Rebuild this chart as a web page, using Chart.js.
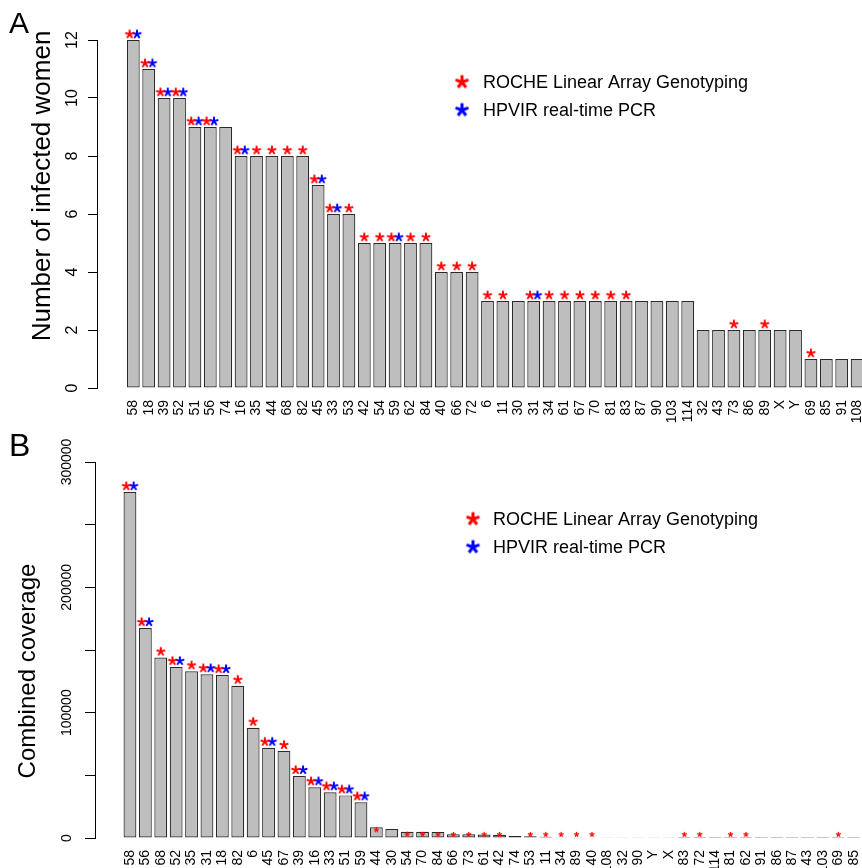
<!DOCTYPE html>
<html><head><meta charset="utf-8">
<script src="https://cdn.jsdelivr.net/npm/chart.js@4.4.1/dist/chart.umd.min.js"></script>
<style>
html,body{margin:0;padding:0;background:#fff;overflow:hidden;width:862px;height:868px;}
#wrap{position:relative;width:862px;height:868px;overflow:hidden;background:#fff;}
canvas{position:absolute;left:0;}
#cA{top:0px}
#cB{top:434px}
</style></head><body>
<div id="wrap"><canvas id="cA" width="910" height="434"></canvas><canvas id="cB" width="910" height="480"></canvas></div>
<script>
// ---------- Panel A data ----------
const catsA = ['58','18','39','52','51','56','74','16','35','44','68','82','45','33','53','42','54','59','62','84','40','66','72','6','11','30','31','34','61','67','70','81','83','87','90','103','114','32','43','73','86','89','X','Y','69','85','91','108'];
const valsA = [12,11,10,10,9,9,9,8,8,8,8,8,7,6,6,5,5,5,5,5,4,4,4,3,3,3,3,3,3,3,3,3,3,3,3,3,3,2,2,2,2,2,2,2,1,1,1,1];
const rocheA = ['58','18','39','52','51','56','16','35','44','68','82','45','33','53','42','54','59','62','84','40','66','72','6','11','31','34','61','67','70','81','83','73','89','69'];
const hpvirA = ['58','18','39','52','51','56','16','45','33','59','31'];
const yTicksA = [0,2,4,6,8,10,12];

// ---------- Panel B data ----------
const catsB = ['58','56','68','52','35','31','18','82','6','45','67','39','16','33','51','59','44','30','54','70','84','66','73','61','42','74','53','11','34','89','40','108','32','90','Y','X','83','72','114','81','62','91','86','87','43','103','69','85'];
const valsB = [276000,167500,144000,136500,133000,130700,130000,121500,88000,72000,69500,49500,40500,36500,34000,28500,8500,7200,5000,4900,4700,3000,2900,2700,2500,1500,1300,1000,600,500,400,250,200,150,120,100,90,80,70,60,50,40,30,25,20,15,10,5];
const rocheB = ['58','56','68','52','35','31','18','82','6','45','67','39','16','33','51','59','44','54','70','84','66','73','61','42','53','11','34','89','40','83','72','81','62','69'];
const hpvirB = ['58','56','52','31','18','45','39','16','33','51','59'];
const yTicksB = [0,100000,200000,300000];

const legendLabels = ['ROCHE Linear Array Genotyping','HPVIR real-time PCR'];
const FONT = '"Liberation Sans", Arial, Helvetica, sans-serif';

function makeStar(color, r, lw){
  const s = Math.ceil(2*r + lw + 2);
  const c = document.createElement('canvas');
  c.width = s; c.height = s;
  const g = c.getContext('2d');
  g.strokeStyle = color; g.lineWidth = lw; g.lineCap = 'butt';
  const cx = s/2, cy = s/2;
  for (let k=0;k<5;k++){
    const a = -Math.PI/2 + k*2*Math.PI/5;
    g.beginPath(); g.moveTo(cx,cy); g.lineTo(cx + r*Math.cos(a), cy + r*Math.sin(a)); g.stroke();
  }
  return c;
}
const RED='#ff0000', BLUE='#0000ff';
const starR = makeStar(RED, 4.6, 2.0), starB = makeStar(BLUE, 4.6, 2.0);
const starRs = makeStar(RED, 2.6, 1.3);
const legR = makeStar(RED, 6.8, 3.0), legB = makeStar(BLUE, 6.8, 3.0);

const panelPlugin = {
  id: 'panel',
  afterDraw(chart){
    const o = chart.options.plugins.panel;
    const ctx = chart.ctx;
    ctx.save();
    ctx.fillStyle = '#000';
    // panel letter
    ctx.font = o.letterSize + 'px ' + FONT;
    ctx.textAlign = 'left'; ctx.textBaseline = 'alphabetic';
    ctx.fillText(o.letter, o.letterX, o.letterY);
    // y tick labels (rotated, R style)
    const ys = chart.scales.y;
    ctx.font = o.tickSize + 'px ' + FONT;
    ctx.textAlign = 'center'; ctx.textBaseline = 'middle';
    o.yLabels.forEach(v => {
      const py = ys.getPixelForValue(v);
      ctx.save(); ctx.translate(o.tickX, py); ctx.rotate(-Math.PI/2);
      ctx.fillText(String(v), 0, 0); ctx.restore();
    });
    // y title
    ctx.font = o.titleSize + 'px ' + FONT;
    ctx.textAlign = 'center'; ctx.textBaseline = 'alphabetic';
    ctx.save(); ctx.translate(o.titleX, o.titleY); ctx.rotate(-Math.PI/2);
    ctx.fillText(o.title, 0, 0); ctx.restore();
    // legend
    ctx.font = o.legSize + 'px ' + FONT;
    ctx.textAlign = 'left'; ctx.textBaseline = 'middle';
    [legR, legB].forEach((img, k) => {
      const y = o.legY + k*o.legGap;
      ctx.drawImage(img, o.legStarX - img.width/2, y - img.height/2);
      ctx.fillText(legendLabels[k], o.legTextX, y + 1);
    });
    ctx.restore();
  }
};

function build(id, cats, vals, roche, hpvir, cfg){
  const red = [], redStyle = [], blue = [];
  cats.forEach((c,i) => {
    const v = vals[i];
    const big = v >= cfg.smallBelow;
    const y = big ? v + cfg.starOff : Math.max(v - cfg.smallDrop, cfg.smallMin);
    if (roche.includes(c)) {
      red.push({x: hpvir.includes(c) ? i - 0.24 : i, y: y});
      redStyle.push(big ? starR : starRs);
    }
    if (hpvir.includes(c)) blue.push({x: i + 0.24, y: y});
  });
  return new Chart(document.getElementById(id), {
    type: 'bar',
    data: {
      datasets: [
        {type:'scatter', data: red, pointStyle: redStyle, pointRadius: 5, clip: false, order: 1, showLine:false},
        {type:'scatter', data: blue, pointStyle: starB, pointRadius: 5, clip: false, order: 1, showLine:false},
        {type:'bar', data: cats.map((c,i)=>({x:i, y:vals[i]})), backgroundColor:'#bebebe', borderColor:'#2a2a2a',
         borderWidth: 1.2, borderSkipped: false, barPercentage: 1/1.2, categoryPercentage: 1, order: 2}
      ]
    },
    options: {
      responsive: false, animation: false, events: [],
      layout: {padding: {top: cfg.padTop, right: cfg.padRight, left: 0, bottom: 0}},
      plugins: {legend:{display:false}, tooltip:{enabled:false}, panel: cfg.panel},
      scales: {
        x: {type:'linear', min: cfg.xMin, max: cfg.xMax, offset:false,
            grid:{display:false}, border:{display:false},
            afterBuildTicks: s => { s.ticks = cats.map((c,i)=>({value:i})); },
            afterFit: s => { s.height = cfg.xHeight; },
            ticks:{autoSkip:false, minRotation:90, maxRotation:90, padding:4, color:'#000',
                   font:{family:FONT, size:14}, callback: v => cats[Math.round(v)]}},
        y: {type:'linear', min:0, max: cfg.yMax,
            afterBuildTicks: s => { s.ticks = cfg.yGrid.map(v=>({value:v})); },
            afterFit: s => { s.width = cfg.axisX; },
            grid:{drawOnChartArea:false, drawTicks:true, tickLength: cfg.tickLen, color:'#000', lineWidth:1},
            border:{display:true, color:'#000', width:1},
            ticks:{display:false}}
      }
    },
    plugins: [panelPlugin]
  });
}

build('cA', catsA, valsA, rocheA, hpvirA, {
  xMin: -2.357, xMax: 49.33, yMax: 12, yGrid: yTicksA, axisX: 97, tickLen: 9,
  padTop: 40, padRight: 17, xHeight: 46,
  starOff: 0.2, smallBelow: -1, smallDrop: 0, smallMin: 0,
  panel: {letter:'A', letterSize:30, letterX:9, letterY:33,
          yLabels: yTicksA, tickSize:16, tickX:73,
          title:'Number of infected women', titleSize:26, titleX:50, titleY:186,
          legSize:18, legStarX:462, legY:82, legGap:28, legTextX:483}
});

build('cB', catsB, valsB, rocheB, hpvirB, {
  xMin: -2.27, xMax: 49.42, yMax: 300000, yGrid: [0,50000,100000,150000,200000,250000,300000], axisX: 95, tickLen: 10,
  padTop: 28, padRight: 19, xHeight: 76,
  starOff: 4800, smallBelow: 20000, smallDrop: 2000, smallMin: 2800,
  panel: {letter:'B', letterSize:32, letterX:9, letterY:22,
          yLabels: yTicksB, tickSize:14, tickX:67,
          title:'Combined coverage', titleSize:24, titleX:35, titleY:237,
          legSize:18, legStarX:473, legY:85, legGap:28, legTextX:493}
});
</script>
</body></html>
